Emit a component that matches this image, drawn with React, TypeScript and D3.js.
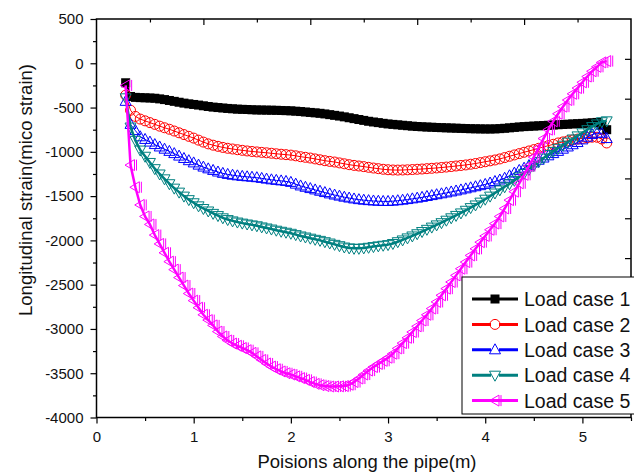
import React, { useEffect, useRef } from 'react';
import * as d3 from 'd3';

// positions along the pipe (m)
const positions = [
  0.30, 0.35, 0.40, 0.45, 0.50, 0.55, 0.60, 0.65, 0.70, 0.75,
  0.80, 0.85, 0.90, 0.95, 1.00, 1.05, 1.10, 1.15, 1.20, 1.25,
  1.30, 1.35, 1.40, 1.45, 1.50, 1.55, 1.60, 1.65, 1.70, 1.75,
  1.80, 1.85, 1.90, 1.95, 2.00, 2.05, 2.10, 2.15, 2.20, 2.25,
  2.30, 2.35, 2.40, 2.45, 2.50, 2.55, 2.60, 2.65, 2.70, 2.75,
  2.80, 2.85, 2.90, 2.95, 3.00, 3.05, 3.10, 3.15, 3.20, 3.25,
  3.30, 3.35, 3.40, 3.45, 3.50, 3.55, 3.60, 3.65, 3.70, 3.75,
  3.80, 3.85, 3.90, 3.95, 4.00, 4.05, 4.10, 4.15, 4.20, 4.25,
  4.30, 4.35, 4.40, 4.45, 4.50, 4.55, 4.60, 4.65, 4.70, 4.75,
  4.80, 4.85, 4.90, 4.95, 5.00, 5.05, 5.10, 5.15, 5.20, 5.25,
];

const loadCase1 = [
  -220, -375, -385, -388, -390, -392, -395, -402, -410, -420,
  -430, -440, -450, -458, -465, -472, -480, -488, -495, -500,
  -505, -510, -514, -518, -520, -522, -525, -527, -528, -529,
  -530, -531, -533, -535, -537, -541, -545, -550, -555, -560,
  -565, -572, -580, -588, -596, -605, -615, -625, -635, -645,
  -655, -663, -670, -678, -685, -690, -695, -700, -705, -710,
  -714, -717, -720, -722, -725, -727, -729, -731, -733, -735,
  -737, -739, -740, -741, -742, -742, -741, -738, -734, -729,
  -724, -719, -715, -712, -709, -706, -703, -700, -697, -694,
  -691, -688, -685, -682, -679, -676, -672, -668, -700, -750,
];

const loadCase2 = [
  -360, -530, -600, -630, -650, -670, -690, -710, -728, -745,
  -765, -785, -805, -825, -845, -868, -890, -910, -925, -938,
  -950, -960, -968, -976, -983, -990, -996, -1001, -1006, -1011,
  -1016, -1022, -1027, -1032, -1037, -1045, -1055, -1062, -1070, -1080,
  -1090, -1100, -1108, -1115, -1125, -1135, -1145, -1153, -1160, -1167,
  -1175, -1183, -1190, -1197, -1202, -1205, -1206, -1205, -1203, -1200,
  -1197, -1194, -1190, -1186, -1182, -1177, -1172, -1166, -1160, -1154,
  -1148, -1140, -1132, -1122, -1112, -1102, -1092, -1080, -1065, -1050,
  -1035, -1020, -1005, -990, -975, -960, -945, -930, -915, -900,
  -888, -876, -866, -856, -848, -840, -835, -835, -855, -900,
];

const loadCase3 = [
  -430, -690, -760, -830, -860, -890, -918, -945, -970, -995,
  -1020, -1048, -1075, -1100, -1125, -1150, -1172, -1192, -1210, -1228,
  -1243, -1255, -1264, -1271, -1277, -1282, -1287, -1292, -1300, -1308,
  -1316, -1322, -1328, -1334, -1345, -1365, -1385, -1400, -1415, -1430,
  -1445, -1460, -1475, -1488, -1500, -1512, -1522, -1532, -1540, -1546,
  -1551, -1555, -1558, -1560, -1560, -1557, -1552, -1546, -1539, -1531,
  -1523, -1514, -1504, -1494, -1484, -1474, -1464, -1453, -1442, -1430,
  -1418, -1406, -1394, -1382, -1368, -1352, -1335, -1318, -1298, -1270,
  -1240, -1210, -1185, -1155, -1125, -1095, -1070, -1045, -1020, -995,
  -970, -945, -920, -895, -865, -835, -805, -790, -790, -850,
];

const loadCase4 = [
  -390, -720, -870, -980, -1050, -1120, -1190, -1250, -1305, -1360,
  -1410, -1455, -1500, -1540, -1575, -1610, -1640, -1668, -1695, -1720,
  -1745, -1765, -1780, -1793, -1805, -1815, -1825, -1835, -1848, -1860,
  -1872, -1885, -1897, -1908, -1920, -1935, -1950, -1962, -1975, -1988,
  -2000, -2015, -2030, -2045, -2060, -2075, -2085, -2090, -2090, -2085,
  -2078, -2070, -2062, -2055, -2048, -2035, -2015, -1995, -1972, -1950,
  -1925, -1900, -1875, -1850, -1825, -1800, -1772, -1745, -1718, -1690,
  -1660, -1630, -1600, -1568, -1535, -1500, -1465, -1430, -1395, -1360,
  -1322, -1283, -1243, -1200, -1155, -1110, -1070, -1030, -995, -960,
  -925, -890, -855, -820, -785, -750, -715, -685, -660, -650,
];

const loadCase5 = [
  -250, -1150, -1400, -1600, -1730, -1820, -1940, -2040, -2140, -2240,
  -2330, -2420, -2510, -2600, -2680, -2760, -2840, -2900, -2960, -3030,
  -3085, -3130, -3165, -3190, -3215, -3240, -3270, -3310, -3350, -3390,
  -3425, -3455, -3480, -3500, -3515, -3535, -3555, -3575, -3600, -3620,
  -3635, -3645, -3650, -3650, -3648, -3645, -3630, -3600, -3560, -3515,
  -3470, -3430, -3395, -3360, -3325, -3280, -3220, -3160, -3100, -3035,
  -2970, -2905, -2840, -2770, -2695, -2620, -2545, -2470, -2395, -2320,
  -2245, -2170, -2095, -2020, -1950, -1880, -1810, -1730, -1640, -1545,
  -1450, -1355, -1260, -1160, -1060, -955, -850, -750, -655, -570,
  -490, -415, -345, -280, -215, -150, -90, -40, 10, 25,
];

const seriesNames = ['Load case 1', 'Load case 2', 'Load case 3', 'Load case 4', 'Load case 5'];
const seriesColors = ['#000000', '#ff0000', '#0000ff', '#008080', '#ff00ff'];
const seriesMarkers = ['square', 'circle', 'triangleUp', 'triangleDown', 'triangleLeft'];
const seriesLineWidths = [2.5, 1, 1, 2.5, 2.5];

const xTicks = [0, 1, 2, 3, 4, 5];
const xMinorTicks = [0.5, 1.5, 2.5, 3.5, 4.5, 5.5];
const yTicks = [500, 0, -500, -1000, -1500, -2000, -2500, -3000, -3500, -4000];
const yMinorTicks = [250, -250, -750, -1250, -1750, -2250, -2750, -3250, -3750];

const FONT = '"Liberation Sans", Arial, sans-serif';

// draws one marker centred on (0,0) into g
function drawMarker(g: any, kind: string, color: string) {
  if (kind === 'square') {
    g.append('rect').attr('x', -4.5).attr('y', -4.5).attr('width', 9).attr('height', 9)
      .attr('fill', color);
  } else if (kind === 'circle') {
    g.append('circle').attr('r', 5).attr('fill', 'none').attr('stroke', color).attr('stroke-width', 1);
  } else if (kind === 'triangleUp') {
    g.append('path').attr('d', 'M0,-6L5.5,4L-5.5,4Z').attr('fill', 'none').attr('stroke', color).attr('stroke-width', 1);
  } else if (kind === 'triangleDown') {
    g.append('path').attr('d', 'M0,6L5.5,-4L-5.5,-4Z').attr('fill', 'none').attr('stroke', color).attr('stroke-width', 1);
  } else {
    g.append('path').attr('d', 'M-5.5,0L4,-5.5L4,5.5Z M6,-5.5L6,5.5').attr('fill', 'none').attr('stroke', color).attr('stroke-width', 1);
  }
}

const App = () => {
  const ref = useRef<SVGSVGElement>(null);
  const width = 634;
  const height = 472;
  const plot = { left: 96.5, right: 631, top: 19, bottom: 417.5 };

  useEffect(() => {
    if (!ref.current) return;
    const svg = d3.select(ref.current);
    svg.selectAll('*').remove();

    const x = d3.scaleLinear().domain([0, 5.5]).range([plot.left, plot.right]);
    const y = d3.scaleLinear().domain([-4000, 500]).range([plot.bottom, plot.top]);
    // the top and right frame axes carry their own tick spacing
    const xTop = d3.scaleLinear().domain([0, 5]).range([plot.left, plot.right]);
    const yRight = d3.scaleLinear().domain([0, 10]).range([plot.top, plot.bottom]);

    svg.append('rect').attr('width', width).attr('height', height).attr('fill', '#fff');

    // series
    const allSeries = [loadCase1, loadCase2, loadCase3, loadCase4, loadCase5];
    allSeries.forEach((vals, i) => {
      const pts = positions.map((p, j) => [p, vals[j]] as [number, number]);
      const line = d3.line<[number, number]>().x(d => x(d[0])).y(d => y(d[1]));
      const g = svg.append('g');
      g.append('path').attr('d', line(pts))
        .attr('fill', 'none')
        .attr('stroke', seriesColors[i])
        .attr('stroke-width', seriesLineWidths[i])
        .attr('stroke-linejoin', 'round');
      pts.forEach(d => {
        const m = g.append('g').attr('transform', `translate(${x(d[0])},${y(d[1])})`);
        drawMarker(m, seriesMarkers[i], seriesColors[i]);
      });
    });

    // frame
    svg.append('rect')
      .attr('x', plot.left).attr('y', plot.top)
      .attr('width', plot.right - plot.left).attr('height', plot.bottom - plot.top)
      .attr('fill', 'none').attr('stroke', '#000').attr('stroke-width', 1.5);

    const styleAxis = (g: any) => {
      g.select('.domain').remove();
      g.selectAll('line').attr('stroke', '#000').attr('stroke-width', 1.2);
      g.selectAll('text').attr('font-family', FONT).attr('font-size', 15).attr('fill', '#111');
    };

    svg.append('g').attr('transform', `translate(${plot.left},0)`)
      .call(d3.axisLeft(y).tickValues(yTicks).tickSize(6).tickPadding(7).tickFormat(d => String(d)))
      .call(styleAxis);
    svg.append('g').attr('transform', `translate(${plot.left},0)`)
      .call(d3.axisLeft(y).tickValues(yMinorTicks).tickSize(3.5).tickFormat(() => ''))
      .call(styleAxis);
    svg.append('g').attr('transform', `translate(0,${plot.bottom})`)
      .call(d3.axisBottom(x).tickValues(xTicks).tickSize(6).tickPadding(8).tickFormat(d => String(d)))
      .call(styleAxis);
    svg.append('g').attr('transform', `translate(0,${plot.bottom})`)
      .call(d3.axisBottom(x).tickValues(xMinorTicks).tickSize(3.5).tickFormat(() => ''))
      .call(styleAxis);
    svg.append('g').attr('transform', `translate(0,${plot.top})`)
      .call(d3.axisBottom(xTop).tickValues([1, 2, 3, 4]).tickSize(6).tickFormat(() => ''))
      .call(styleAxis);
    svg.append('g').attr('transform', `translate(0,${plot.top})`)
      .call(d3.axisBottom(xTop).tickValues([0.5, 1.5, 2.5, 3.5, 4.5]).tickSize(3.5).tickFormat(() => ''))
      .call(styleAxis);
    svg.append('g').attr('transform', `translate(${plot.right},0)`)
      .call(d3.axisLeft(yRight).tickValues([1, 2, 3, 4, 5, 6, 7, 8, 9]).tickSize(6).tickFormat(() => ''))
      .call(styleAxis);

    // axis titles
    svg.append('text').attr('x', 367).attr('y', 467.5)
      .attr('text-anchor', 'middle').attr('font-family', FONT).attr('font-size', 18.5).attr('fill', '#111')
      .text('Poisions along the pipe(m)');
    svg.append('text').attr('transform', 'translate(32,190) rotate(-90)')
      .attr('text-anchor', 'middle').attr('font-family', FONT).attr('font-size', 18.5).attr('fill', '#111')
      .text('Longitudinal strain(mico strain)');

    // legend
    const legend = svg.append('g');
    legend.append('rect').attr('x', 462).attr('y', 277).attr('width', 200).attr('height', 137)
      .attr('fill', '#fff').attr('stroke', '#000').attr('stroke-width', 1);
    seriesNames.forEach((name, i) => {
      const cy = 299 + i * 25.4;
      legend.append('line').attr('x1', 472).attr('x2', 518).attr('y1', cy).attr('y2', cy)
        .attr('stroke', seriesColors[i]).attr('stroke-width', 3);
      const m = legend.append('g').attr('transform', `translate(495,${cy})`);
      if (i === 1 || i === 2 || i === 3) {
        m.append('rect').attr('x', -4).attr('y', -4).attr('width', 8).attr('height', 8).attr('fill', '#fff');
      }
      drawMarker(m, seriesMarkers[i], seriesColors[i]);
      legend.append('text').attr('x', 524).attr('y', cy + 7.2)
        .attr('font-family', FONT).attr('font-size', 19.5).attr('fill', '#111')
        .text(name);
    });
  }, []);

  return (
    <svg ref={ref} width={width} height={height}
      style={{ position: 'absolute', left: 0, top: 0, display: 'block' }} />
  );
};

export default App;
